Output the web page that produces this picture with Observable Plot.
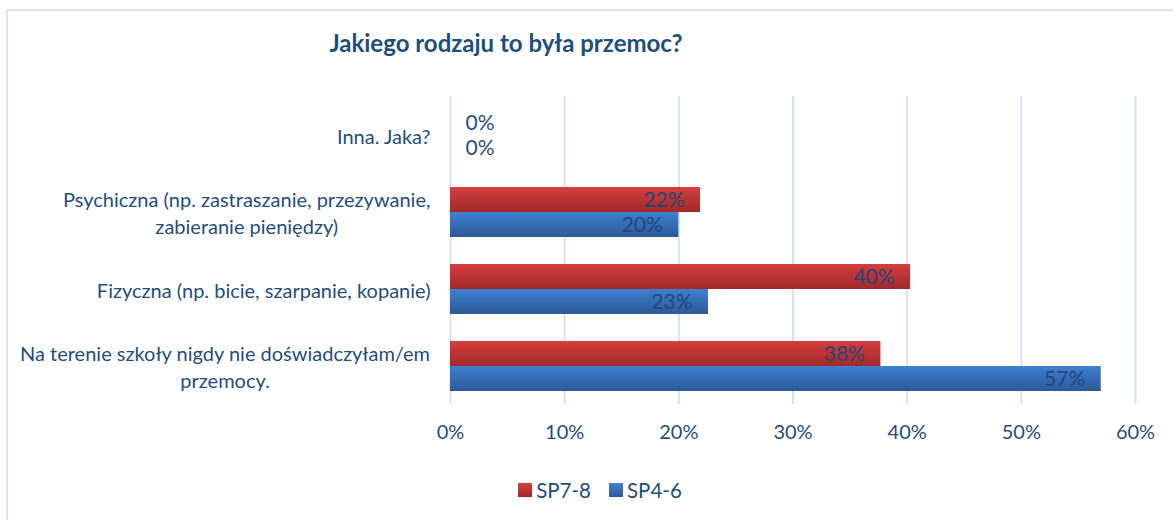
<!DOCTYPE html>
<html>
<head>
<meta charset="utf-8">
<script src="https://cdn.jsdelivr.net/npm/d3@7"></script>
<script src="https://cdn.jsdelivr.net/npm/@observablehq/plot@0.6"></script>
<style>
  html, body { margin: 0; padding: 0; background: #fff; }
  #wrap { position: relative; width: 1173px; height: 520px; overflow: hidden; font-family: Lato, "Open Sans", sans-serif; color: #1f4e79; }
  #frame { position: absolute; left: 6px; top: 9px; width: 1200px; height: 560px; border: 2px solid #dbe4f0; box-sizing: border-box; }
  #title { position: absolute; left: 0; width: 1012px; top: 28px; text-align: center; font-weight: 700; font-size: 24px; line-height: 30px; color: #1f4e79; }
  #chart { position: absolute; left: 0; top: 0; }
  #legend { position: absolute; left: 0; width: 1200px; top: 476px; text-align: center; font-size: 20.5px; line-height: 26px; color: #1f4e79; }
  #legend span.item { display: inline-flex; align-items: center; margin: 0 9px; }
  #legend span.sw { display: inline-block; width: 14px; height: 14px; margin-right: 4px; }
</style>
</head>
<body>
<div id="wrap">
  <div id="frame"></div>
  <div id="title">Jakiego rodzaju to była przemoc?</div>
  <div id="chart"></div>
  <div id="legend"></div>
</div>
<script>
const categories = [
  "Inna. Jaka?",
  "Psychiczna (np. zastraszanie, przezywanie,\nzabieranie pieniędzy)",
  "Fizyczna (np. bicie, szarpanie, kopanie)",
  "Na terenie szkoły nigdy nie doświadczyłam/em\nprzemocy."
];
const seriesNames = ["SP7-8", "SP4-6"];
const sp78 = [0, 0.219, 0.403, 0.377];
const sp46 = [0, 0.20, 0.226, 0.57];
const xTicks = [0, 0.1, 0.2, 0.3, 0.4, 0.5, 0.6];

const rows = [];
categories.forEach((c, i) => {
  rows.push({category: c, series: seriesNames[0], value: sp78[i]});
  rows.push({category: c, series: seriesNames[1], value: sp46[i]});
});

const textColor = "#1f4e79";
const labelFont = 20;
const fmt = d3.format(".0%");

// measure for centered multi-line labels
const cv = document.createElement("canvas").getContext("2d");
cv.font = `${labelFont}px Lato`;
function maxLineWidth(s) { return d3.max(s.split("\n"), l => cv.measureText(l).width); }

const labelMarks = categories.map(c => {
  const multi = c.includes("\n");
  const w = maxLineWidth(c);
  return Plot.text([c], {
    fy: d => d,
    text: d => d,
    frameAnchor: "left",
    textAnchor: multi ? "middle" : "end",
    dx: multi ? -20 - w / 2 : -20,
    lineAnchor: "middle",
    lineHeight: 1.35,
    fontSize: labelFont,
    fill: textColor
  });
});

const plot = Plot.plot({
  width: 1173,
  height: 470,
  marginLeft: 450,
  marginRight: 38,
  marginTop: 95,
  marginBottom: 65,
  style: {fontFamily: "Lato, 'Open Sans', sans-serif", color: textColor, background: "transparent"},
  x: {domain: [0, 0.6], ticks: xTicks, tickFormat: d3.format(".0%"), label: null},
  fy: {domain: categories, padding: 0, axis: null, label: null},
  y: {domain: seriesNames, paddingInner: 0, paddingOuter: 0.49, axis: null, label: null},
  color: {domain: seriesNames, range: ["url(#gradRed)", "url(#gradBlue)"]},
  marks: [
    Plot.gridX(xTicks, {stroke: "#d6e2f1", strokeOpacity: 1, strokeWidth: 2}),
    Plot.barX(rows, {fy: "category", y: "series", x: "value", fill: "series", ariaLabel: "bars"}),
    Plot.text(rows.filter(d => d.value > 0), {fy: "category", y: "series", x: "value", text: d => fmt(d.value), textAnchor: "end", dx: -16, fontSize: 21, fill: "#24467a"}),
    Plot.text(rows.filter(d => d.value === 0), {fy: "category", y: "series", x: "value", text: d => fmt(d.value), textAnchor: "start", dx: 15, fontSize: 21, fill: textColor}),
    ...labelMarks,
    Plot.axisX(xTicks, {tickSize: 0, tickPadding: 20, fontSize: 20, fill: textColor, tickFormat: d3.format(".0%"), label: null})
  ]
});

const svg = d3.select(plot);
const defs = svg.insert("defs", ":first-child");
const gr = defs.append("linearGradient").attr("id", "gradRed").attr("x1", 0).attr("y1", 0).attr("x2", 0).attr("y2", 1);
gr.append("stop").attr("offset", "0%").attr("stop-color", "#d63f3f");
gr.append("stop").attr("offset", "100%").attr("stop-color", "#a2292a");
const gb = defs.append("linearGradient").attr("id", "gradBlue").attr("x1", 0).attr("y1", 0).attr("x2", 0).attr("y2", 1);
gb.append("stop").attr("offset", "0%").attr("stop-color", "#3f80d2");
gb.append("stop").attr("offset", "100%").attr("stop-color", "#2c5a98");
const f = defs.append("filter").attr("id", "shadow").attr("x", "-5%").attr("y", "-20%").attr("width", "115%").attr("height", "160%");
f.append("feDropShadow").attr("dx", 3).attr("dy", 3).attr("stdDeviation", 2).attr("flood-color", "#000").attr("flood-opacity", 0.3);
svg.selectAll('g[aria-label="bars"]').attr("filter", "url(#shadow)");

document.getElementById("chart").appendChild(plot);

const legend = d3.select("#legend");
seriesNames.forEach((s, i) => {
  const it = legend.append("span").attr("class", "item");
  it.append("span").attr("class", "sw").style("background", `linear-gradient(${i ? "#3f80d2,#2c5a98" : "#d63f3f,#a2292a"})`);
  it.append("span").text(s);
});
</script>
</body>
</html>
